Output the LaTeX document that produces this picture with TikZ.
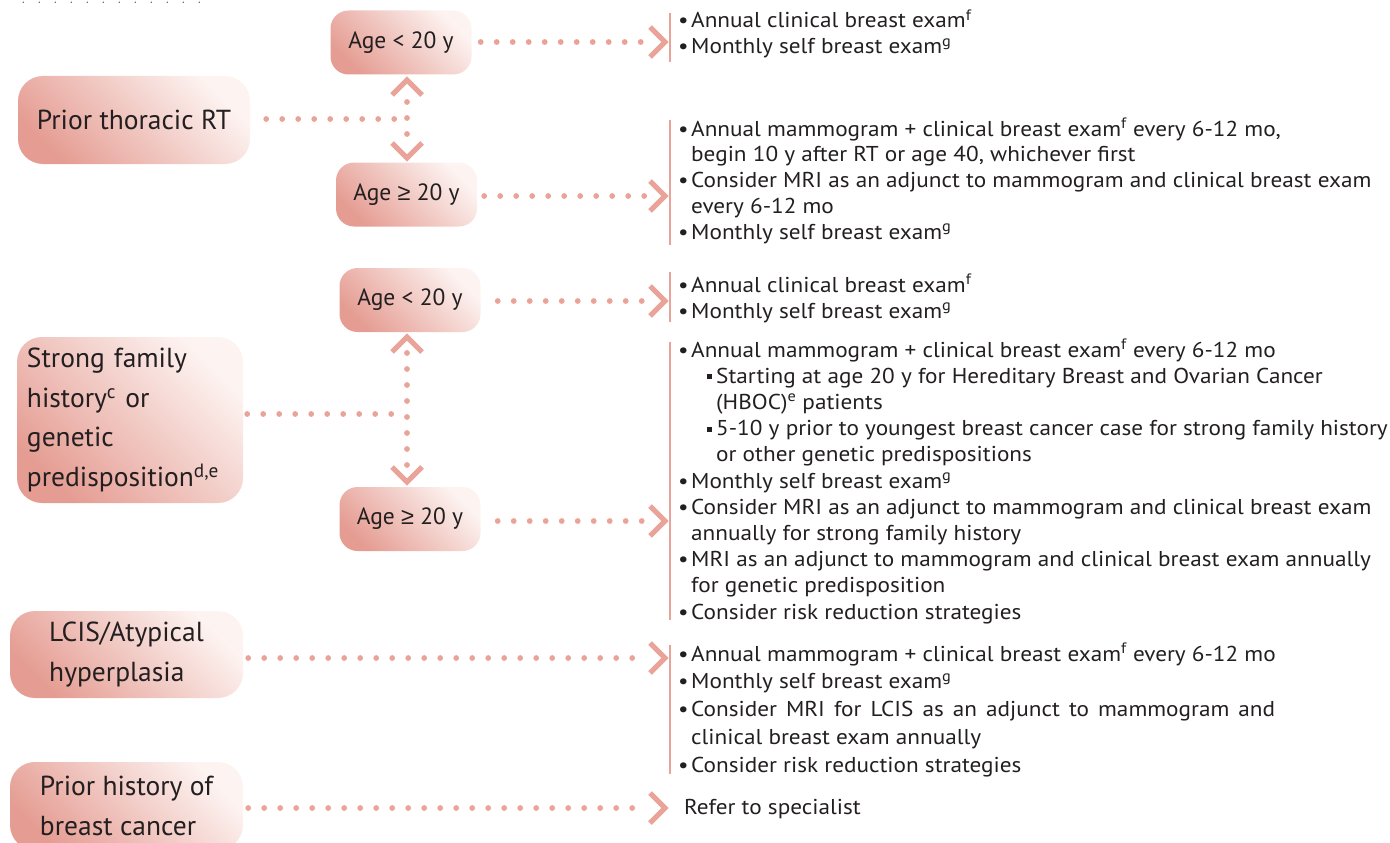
\documentclass[tikz,border=0pt]{standalone}
\usepackage{fontspec}
\setmainfont{PT Sans}
\newfontfamily\recfont{PT Sans}[FakeStretch=1.08]
\newfontfamily\symfont{Liberation Sans}
\usetikzlibrary{calc}

\definecolor{ink}{RGB}{35,31,32}
\definecolor{salmon}{RGB}{233,163,153}
\definecolor{boxdark}{RGB}{229,157,147}
\definecolor{boxlight}{RGB}{253,244,242}

% bullet helpers for the recommendation lists
\newcommand\dotitem{\makebox[13pt][l]{•}}
\newcommand\contline{\hspace*{13pt}}
\newcommand\sqitem{\hspace*{29pt}\makebox[9pt][l]{\rule[4pt]{5pt}{5pt}}}
\newcommand\subcont{\hspace*{38pt}}
\newcommand\geqsym{{\symfont ≥}}

\tikzset{
  riskbox/.style={draw=none, rounded corners=25pt, bottom color=boxdark,
    top color=boxlight, shading angle=-45, inner sep=0pt, text=ink,
    align=left, font=\fontsize{27.5}{39.5}\selectfont},
  agebox/.style={draw=none, rounded corners=18pt, bottom color=boxdark,
    top color=boxlight, shading angle=-45, inner sep=0pt, text=ink,
    minimum width=141pt, minimum height=64pt, font=\fontsize{23.5}{28}\selectfont},
  dotline/.style={salmon, line width=5.8pt, line cap=round,
    dash pattern=on 0pt off 16pt},
  chevline/.style={salmon, line width=5pt, line cap=butt, line join=miter},
  barline/.style={salmon, line width=2.6pt},
  recs/.style={anchor=base west, inner sep=0pt, text=ink, align=left},
  chevr/.pic={\draw[chevline] (-15,-15) -- (0,0) -- (-15,15);},
  chevu/.pic={\draw[chevline] (-15,15) -- (0,0) -- (15,15);},
  chevd/.pic={\draw[chevline] (-15,-15) -- (0,0) -- (15,-15);},
}

\begin{document}
\begin{tikzpicture}[x=1pt, y=-1pt]
\useasboundingbox (0,0) rectangle (1390,843);

% faint dotted rule along the top edge
\draw[ink!70, line width=1.6pt, line cap=round, dash pattern=on 0pt off 16pt]
  (23.3,2.3) -- (205,2.3);

% ---------- risk categories ----------
\node[riskbox, minimum width=232pt, minimum height=88pt] (rt) at (134,120)
  {Prior thoracic RT};
\node[riskbox, minimum width=226pt, minimum height=166pt, text width=206pt,
  inner xsep=10pt] (fam) at (130,420)
  {Strong family\\history\textsuperscript{c} or\\genetic\\predisposition\textsuperscript{d,e}};
\node[riskbox, minimum width=233pt, minimum height=87pt] (lcis) at (126.5,654.5)
  {LCIS/Atypical\\hyperplasia};
\node[riskbox, minimum width=233pt, minimum height=88pt] (hist) at (126.5,806)
  {Prior history of\\breast cancer};

% ---------- age split ----------
\node[agebox] (a1) at (401,42.5) {Age < 20 y};
\node[agebox] (a2) at (406.5,194.5) {Age \geqsym\ 20 y};
\node[agebox] (a3) at (410,300) {Age < 20 y};
\node[agebox] (a4) at (410,519) {Age \geqsym\ 20 y};

% junctions and chevron tips
\coordinate (j1) at (407,119);
\coordinate (u1) at (407,80);
\coordinate (d1) at (407,158);
\coordinate (j2) at (407,414);
\coordinate (u2) at (407,337);
\coordinate (d2) at (407,482);

\coordinate (t1) at (665,42);
\coordinate (t2) at (665,196);
\coordinate (t3) at (665,301);
\coordinate (t4) at (665,521);
\coordinate (t5) at (665,658);
\coordinate (t6) at (665,808);

% prior thoracic RT branch
\draw[dotline, shorten <=16pt] (rt.east |- j1) -- (j1);
\draw[dotline, shorten <=22pt, shorten >=22pt] (u1) -- (d1);
\pic at (u1) {chevu};
\pic at (d1) {chevd};

% family history branch
\draw[dotline, shorten <=4pt] (fam.east |- j2) -- (j2);
\draw[dotline, shorten <=16pt, shorten >=16pt] (u2) -- (d2);
\pic at (u2) {chevu};
\pic at (d2) {chevd};

% arrows to the recommendations
\draw[dotline, shorten <=9pt, shorten >=22pt] (a1.east |- t1) -- (t1);
\draw[dotline, shorten <=7pt, shorten >=20pt] (a2.east |- t2) -- (t2);
\draw[dotline, shorten <=17pt, shorten >=22pt] (a3.east |- t3) -- (t3);
\draw[dotline, shorten <=17pt, shorten >=22pt] (a4.east |- t4) -- (t4);
\draw[dotline, shorten <=5pt, shorten >=22pt] (lcis.east |- t5) -- (t5);
\draw[dotline, shorten <=5pt, shorten >=22pt] (hist.east |- t6) -- (t6);
\foreach \t in {t1,t2,t3,t4,t5,t6} \pic at (\t) {chevr};

% brackets in front of each list
\coordinate (b1s) at (670,13);  \coordinate (b1e) at (670,62);
\coordinate (b2s) at (670,120); \coordinate (b2e) at (670,245);
\coordinate (b3s) at (670,272); \coordinate (b3e) at (670,322);
\coordinate (b4s) at (670,342); \coordinate (b4e) at (670,620);
\coordinate (b5s) at (670,645); \coordinate (b5e) at (670,774);
\draw[barline] (b1s) -- (b1e);
\draw[barline] (b2s) -- (b2e);
\draw[barline] (b3s) -- (b3e);
\draw[barline] (b4s) -- (b4e);
\draw[barline] (b5s) -- (b5e);

% ---------- recommendations (anchored at the last baseline) ----------
\node[recs, font=\recfont\fontsize{21.5}{26}\selectfont] (r1) at (678,54)
  {\dotitem Annual clinical breast exam\textsuperscript{f}\\
   \dotitem Monthly self breast exam\textsuperscript{g}};

\node[recs, font=\recfont\fontsize{21.5}{25.75}\selectfont] (r2) at (678,239)
  {\dotitem Annual mammogram + clinical breast exam\textsuperscript{f} every 6-12 mo,\\
   \contline begin 10 y after RT or age 40, whichever first\\
   \dotitem Consider MRI as an adjunct to mammogram and clinical breast exam\\
   \contline every 6-12 mo\\
   \dotitem Monthly self breast exam\textsuperscript{g}};

\node[recs, font=\recfont\fontsize{21.5}{26}\selectfont] (r3) at (678,318)
  {\dotitem Annual clinical breast exam\textsuperscript{f}\\
   \dotitem Monthly self breast exam\textsuperscript{g}};

\node[recs, font=\recfont\fontsize{21.5}{26.2}\selectfont] (r4) at (678,619)
  {\dotitem Annual mammogram + clinical breast exam\textsuperscript{f} every 6-12 mo\\
   \sqitem Starting at age 20 y for Hereditary Breast and Ovarian Cancer\\
   \subcont(HBOC)\textsuperscript{e} patients\\
   \sqitem 5-10 y prior to youngest breast cancer case for strong family history\\
   \subcont or other genetic predispositions\\
   \dotitem Monthly self breast exam\textsuperscript{g}\\
   \dotitem Consider MRI as an adjunct to mammogram and clinical breast exam\\
   \contline annually for strong family history\\
   \dotitem MRI as an adjunct to mammogram and clinical breast exam annually\\
   \contline for genetic predisposition\\
   \dotitem Consider risk reduction strategies};

\node[recs, font=\recfont\fontsize{21.5}{27.75}\selectfont] (r5) at (678,772)
  {\dotitem Annual mammogram + clinical breast exam\textsuperscript{f} every 6-12 mo\\
   \dotitem Monthly self breast exam\textsuperscript{g}\\
   \makebox[597pt][s]{\dotitem Consider MRI for LCIS as an adjunct to mammogram and}\\
   \contline clinical breast exam annually\\
   \dotitem Consider risk reduction strategies};

\node[recs, font=\recfont\fontsize{21.5}{26}\selectfont] (r6) at (684,814)
  {Refer to specialist};

\end{tikzpicture}
\end{document}
